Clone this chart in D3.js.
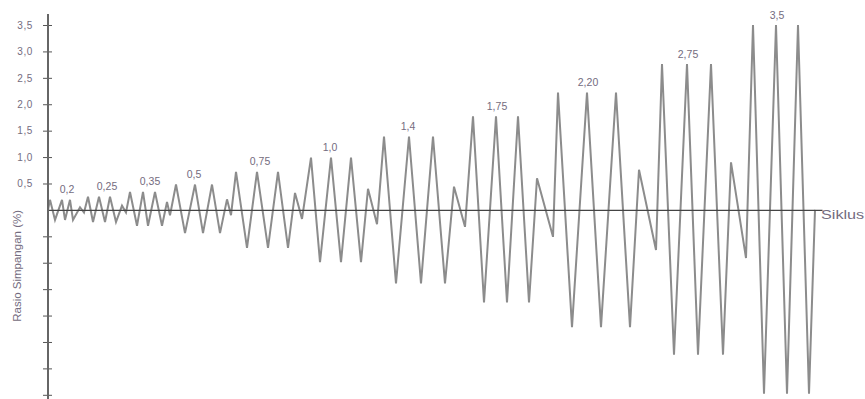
<!DOCTYPE html>
<html>
<head>
<meta charset="utf-8">
<script src="https://cdn.jsdelivr.net/npm/d3@7"></script>
<style>
  html, body { margin: 0; padding: 0; background: #fff; overflow: hidden; }
  svg { display: block; font-family: "Liberation Sans", Arial, sans-serif; }
</style>
</head>
<body>
<svg id="chart"></svg>
<script>
// Loading history (time in arbitrary cycle units, drift ratio in %)
const siklusT = [
  0,
  0.4, 1.4, 2.8, 3.4, 4.4, 5.0, 6.4, 7.2,
  8.0, 9.0, 10.2, 11.4, 12.4, 13.6, 14.8, 15.6,
  16.4, 17.8, 19.0, 20.0, 21.4, 22.8, 23.8, 24.4,
  25.6, 27.4, 29.4, 31.0, 32.8, 34.4, 35.8, 36.6,
  37.6, 39.8, 41.8, 44.0, 46.0, 48.0, 49.4, 50.8,
  52.6, 54.4, 56.6, 58.6, 60.6, 62.6, 64.0, 65.8,
  67.2, 69.6, 72.2, 74.6, 77.0, 79.4, 81.2, 83.4,
  85.0, 87.2, 89.6, 91.8, 94.0, 96.2, 97.8, 101.0,
  102.0, 104.8, 107.8, 110.6, 113.6, 116.4, 118.2, 121.6,
  122.8, 125.2, 127.8, 130.0, 132.6, 135.0, 136.6, 139.6,
  141.0, 143.2, 145.6, 147.8, 150.0, 152.2, 153.4
];
const simpangan = [
  0,
  0.19, -0.19, 0.19, -0.19, 0.19, -0.19, 0.05, -0.05,
  0.25, -0.23, 0.25, -0.23, 0.25, -0.23, 0.08, -0.05,
  0.34, -0.30, 0.34, -0.30, 0.34, -0.30, 0.15, -0.10,
  0.48, -0.44, 0.48, -0.44, 0.48, -0.44, 0.20, -0.10,
  0.72, -0.72, 0.72, -0.72, 0.72, -0.72, 0.32, -0.17,
  0.99, -0.99, 0.99, -0.99, 0.99, -0.99, 0.40, -0.27,
  1.39, -1.39, 1.39, -1.39, 1.39, -1.39, 0.44, -0.32,
  1.77, -1.75, 1.77, -1.75, 1.77, -1.75, 0.60, -0.51,
  2.22, -2.22, 2.22, -2.22, 2.22, -2.22, 0.76, -0.76,
  2.76, -2.74, 2.76, -2.74, 2.76, -2.74, 0.90, -0.91,
  3.50, -3.48, 3.50, -3.48, 3.50, -3.48, 0
];

// Amplitude labels above each group
const labelText = ["0,2", "0,25", "0,35", "0,5", "0,75", "1,0", "1,4", "1,75", "2,20", "2,75", "3,5"];
const labelT    = [3.8, 11.8, 20.4, 29.2, 42.4, 56.4, 72.0, 89.8, 108.0, 128.0, 145.8];
const labelPeak = [0.19, 0.25, 0.34, 0.48, 0.72, 0.99, 1.39, 1.77, 2.22, 2.76, 3.5];

const yTicks = [-3.5, -3, -2.5, -2, -1.5, -1, -0.5, 0.5, 1, 1.5, 2, 2.5, 3, 3.5];

const width = 865;
const height = 399;
const margin = { top: 25, right: 43, bottom: 4, left: 48 };

const svg = d3.select("#chart")
  .attr("width", width)
  .attr("height", height);

const x = d3.scaleLinear()
  .domain([0, 154.8])
  .range([margin.left, width - margin.right]);

const y = d3.scaleLinear()
  .domain([-3.5, 3.5])
  .range([height - margin.bottom - 0.2, margin.top]);

const textColor = "#746c80";

// the signal
const points = siklusT.map((t, i) => [t, simpangan[i]]);
const line = d3.line()
  .x(d => x(d[0]))
  .y(d => y(d[1]));

svg.append("path")
  .datum(points)
  .attr("fill", "none")
  .attr("stroke", "#8c8c8c")
  .attr("stroke-width", 2)
  .attr("stroke-linejoin", "miter")
  .attr("d", line);

// X axis (just the line through zero)
svg.append("g")
  .attr("transform", `translate(0,${y(0)})`)
  .call(d3.axisBottom(x).tickValues([]).tickSizeOuter(0))
  .select(".domain")
  .attr("stroke", "#444")
  .attr("stroke-width", 1.2);

// Y axis
const yAxis = svg.append("g")
  .attr("transform", `translate(${margin.left},0)`)
  .call(
    d3.axisLeft(y)
      .tickValues(yTicks)
      .tickSize(5)
      .tickPadding(10)
      .tickFormat(d => d > 0 ? d3.format(".1f")(d).replace(".", ",") : "")
  );

yAxis.select(".domain").remove();
yAxis.selectAll(".tick line")
  .attr("x1", 4)
  .attr("stroke", "#555");
yAxis.selectAll(".tick text")
  .attr("fill", textColor)
  .attr("font-size", 10)
  .attr("letter-spacing", 0.6);

yAxis.append("line")
  .attr("x1", 0).attr("x2", 0)
  .attr("y1", y(3.5) - 11)
  .attr("y2", height)
  .attr("stroke", "#666")
  .attr("stroke-width", 2);

// Axis titles
svg.append("text")
  .attr("transform", `translate(21,${y(-1.06)}) rotate(-90)`)
  .attr("text-anchor", "middle")
  .attr("fill", textColor)
  .attr("font-size", 11.5)
  .text("Rasio Simpangan (%)");

svg.append("text")
  .attr("transform", `translate(${x(154.8) - 1},${y(0) + 9}) scale(1.35,1)`)
  .attr("fill", textColor)
  .attr("font-size", 12)
  .text("Siklus");

// Group labels
svg.selectAll(".amp-label")
  .data(labelText)
  .enter()
  .append("text")
  .attr("class", "amp-label")
  .attr("x", (d, i) => x(labelT[i]))
  .attr("y", (d, i) => y(labelPeak[i]) - 6.5)
  .attr("text-anchor", "middle")
  .attr("fill", textColor)
  .attr("font-size", 10.5)
  .text(d => d);
</script>
</body>
</html>
